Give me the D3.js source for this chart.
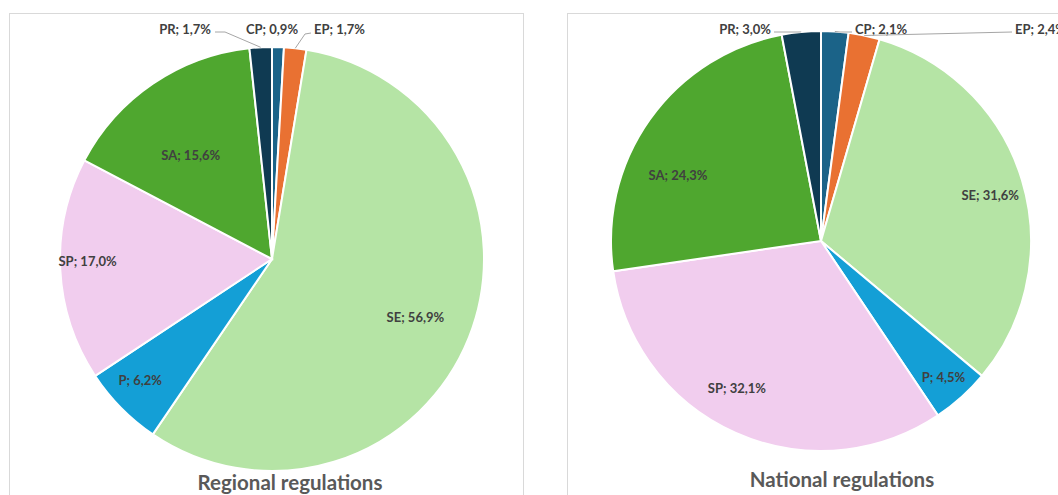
<!DOCTYPE html>
<html>
<head>
<meta charset="utf-8">
<script src="https://cdn.jsdelivr.net/npm/d3@7"></script>
<style>
  body { margin: 0; background: #fff; }
  svg { display: block; font-family: Lato, "Open Sans", sans-serif; }
</style>
</head>
<body>
<div id="chart"></div>
<script>
const categories = ["CP", "EP", "SE", "P", "SP", "SA", "PR"];
const regionalValues = [0.9, 1.7, 56.9, 6.2, 17.0, 15.6, 1.7];
const nationalValues = [2.1, 2.4, 31.6, 4.5, 32.1, 24.3, 3.0];
const titles = ["Regional regulations", "National regulations"];

const width = 1058, height = 495;
const colors = {
  CP: "#1b6388", EP: "#e97132", SE: "#b5e4a5", P: "#149fd6",
  SP: "#f1cdee", SA: "#4fa72f", PR: "#0f3a52"
};

const svg = d3.select("#chart").append("svg")
  .attr("width", width).attr("height", height);

// panels
const panels = [
  { x: 9.5, y: 13.5, w: 514, h: 500, cx: 272, cy: 259, r: 212, tx: 290, ty: 490,
    values: regionalValues,
    inside: { SE: [0.73, 0.3], P: [0.845, 2], SP: [0.87, 2], SA: [0.62, -4] },
    outside: {
      PR: { x: 211, y: 29, anchor: "end", line: [[215, 32], [225, 32]] },
      CP: { x: 272, y: 29, anchor: "middle", line: null },
      EP: { x: 314, y: 29, anchor: "start", line: [[311, 33], [305, 34]] }
    } },
  { x: 567.5, y: 13.5, w: 520, h: 500, cx: 821, cy: 241, r: 210, tx: 842, ty: 487,
    values: nationalValues,
    inside: { SE: [0.835, 1.7], P: [0.873, 0], SP: [0.81, 5.7], SA: [0.75, -10.7] },
    outside: {
      PR: { x: 771, y: 29, anchor: "end", line: [[774, 32], [798, 32]] },
      CP: { x: 855, y: 29, anchor: "start", line: [[852, 32], [840, 32]] },
      EP: { x: 1015, y: 29, anchor: "start", line: [[1012, 32]] }
    } }
];

const fmt = v => d3.format(".1f")(v).replace(".", ",") + "%";

panels.forEach((p, i) => {
  svg.append("rect")
    .attr("x", p.x).attr("y", p.y)
    .attr("width", p.w).attr("height", p.h)
    .attr("fill", "none")
    .attr("stroke", "#d9d9d9")
    .attr("stroke-width", 1);

  const pie = d3.pie().sort(null).value(d => d.value);
  const data = pie(categories.map((c, k) => ({ cat: c, value: p.values[k] })));
  const arc = d3.arc().innerRadius(0).outerRadius(p.r);

  const g = svg.append("g").attr("transform", `translate(${p.cx},${p.cy})`);
  g.selectAll("path")
    .data(data)
    .enter()
    .append("path")
    .attr("d", arc)
    .attr("fill", d => colors[d.data.cat])
    .attr("stroke", "#fff")
    .attr("stroke-width", 2);

  // data labels
  data.forEach(d => {
    const cfg = p.inside[d.data.cat];
    const txt = `${d.data.cat}; ${fmt(d.data.value)}`;
    if (cfg) {
      const a = (d.startAngle + d.endAngle) / 2 + cfg[1] * Math.PI / 180;
      const dist = cfg[0] * p.r;
      svg.append("text")
        .attr("x", p.cx + Math.sin(a) * dist)
        .attr("y", p.cy - Math.cos(a) * dist)
        .attr("dy", "0.35em")
        .attr("text-anchor", "middle")
        .style("font-size", "13px")
        .style("font-weight", "bold")
        .style("fill", "#404040")
        .text(txt);
    } else {
      const o = p.outside[d.data.cat];
      const a = (d.startAngle + d.endAngle) / 2;
      const edge = [p.cx + Math.sin(a) * p.r, p.cy - Math.cos(a) * p.r];
      if (o.line) {
        svg.append("polyline")
          .attr("points", o.line.concat([edge]).map(q => q.join(",")).join(" "))
          .attr("fill", "none")
          .attr("stroke", "#a6a6a6")
          .attr("stroke-width", 1);
      }
      svg.append("text")
        .attr("x", o.x)
        .attr("y", o.y)
        .attr("dy", "0.35em")
        .attr("text-anchor", o.anchor)
        .style("font-size", "13px")
        .style("font-weight", "bold")
        .style("fill", "#404040")
        .text(txt);
    }
  });

  svg.append("text")
    .attr("x", p.tx)
    .attr("y", p.ty)
    .attr("text-anchor", "middle")
    .style("font-size", "20.5px")
    .style("font-weight", "bold")
    .style("fill", "#595959")
    .text(titles[i]);
});
</script>
</body>
</html>
